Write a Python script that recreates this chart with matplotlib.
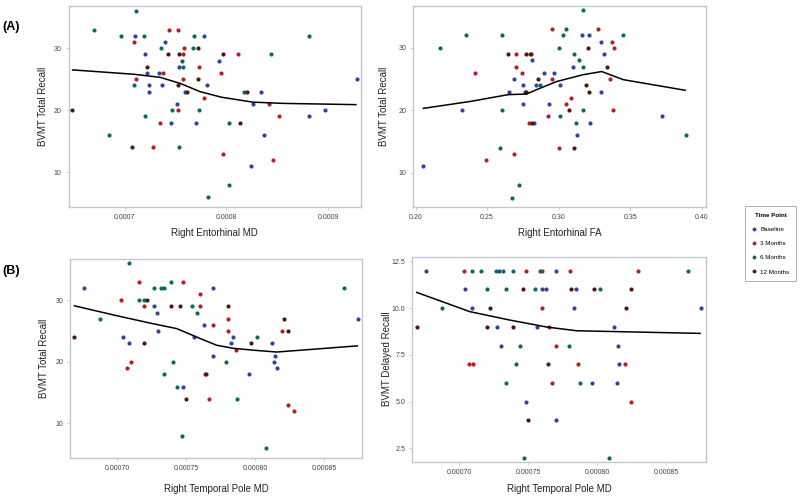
#BVMT recall vs right-hemisphere diffusion measures, by time point
import numpy as np
from matplotlib import pyplot as plt
from matplotlib.lines import Line2D
from matplotlib.ticker import FormatStrFormatter

plt.rcParams['font.family'] = ['Liberation Sans', 'DejaVu Sans']

groups = ["Baseline", "3 Months", "6 Months", "12 Months"]
group_colors = ["#2f45a0", "#b32025", "#0b6b60", "#4a1a0c"]

#Panel A left: Right Entorhinal MD (x in 1e-5 units) vs BVMT Total Recall
ent_md_x = [66.96, 71.14, 69.67, 71.05, 71.86, 70.88, 73.92, 74.38, 75.29, 73.59, 75.88, 76.67, 76.86,
            77.78, 77.19, 71.96, 74.25, 75.39, 75.78, 79.64, 81.18, 75.62, 79.31, 72.19, 75.39, 75.78,
            77.35, 72.19, 73.40, 73.76, 79.44, 71.14, 75.78, 77.19, 70.88, 72.35, 73.66, 75.29, 78.07,
            72.35, 75.95, 76.14, 81.76, 82.03, 83.40, 77.78, 75.16, 82.58, 84.15, 64.87, 74.67, 75.29,
            77.35, 89.67, 71.96, 85.16, 88.10, 73.50, 74.58, 76.99, 80.26, 81.34, 68.43, 83.69, 70.72,
            72.78, 75.39, 79.64, 84.61, 82.39, 80.26, 78.17, 88.10, 84.38, 92.78]
ent_md_y = [33, 36, 32, 32, 32, 31, 31, 33, 33, 30, 30, 30, 32,
            32, 30, 29, 29, 29, 29, 29, 29, 28, 28, 27, 27, 27,
            27, 26, 26, 26, 26, 25, 25, 25, 24, 24, 24, 24, 24,
            23, 23, 23, 23, 23, 23, 22, 21, 21, 21, 20, 20, 20,
            20, 20, 19, 19, 19, 18, 18, 18, 18, 18, 16, 16, 14,
            14, 14, 13, 12, 11, 8, 6, 32, 29, 25]
ent_md_g = [2, 2, 2, 0, 2, 1, 0, 1, 1, 2, 1, 2, 2,
            0, 3, 0, 3, 3, 1, 3, 1, 2, 0, 3, 0, 2,
            1, 0, 0, 1, 1, 1, 1, 3, 2, 0, 0, 3, 0,
            0, 0, 3, 2, 3, 0, 1, 0, 0, 1, 3, 2, 1,
            2, 0, 2, 1, 0, 1, 0, 0, 2, 3, 2, 0, 3,
            1, 2, 1, 1, 0, 2, 2, 2, 2, 0]
ent_md_fit_x = [64.9, 70.9, 73.5, 75.5, 77.4, 79.5, 82.6, 85.6, 92.7]
ent_md_fit_y = [26.5, 25.8, 25.3, 24.3, 23.0, 22.1, 21.3, 21.1, 20.9]

#Panel A right: Right Entorhinal FA vs BVMT Total Recall
ent_fa_x = [0.2054, 0.2172, 0.2354, 0.2324, 0.2413, 0.2492, 0.2592, 0.2604, 0.2604, 0.2643, 0.2650,
            0.2685, 0.2690, 0.2702, 0.2702, 0.2674, 0.2720, 0.2744, 0.2753, 0.2753, 0.2762, 0.2772,
            0.2772, 0.2790, 0.2802, 0.2806, 0.2814, 0.2814, 0.2830, 0.2853, 0.2841, 0.2872, 0.2900,
            0.2930, 0.2923, 0.2951, 0.2951, 0.2970, 0.3000, 0.3007, 0.3012, 0.3000, 0.3033, 0.3051,
            0.3049, 0.3070, 0.3089, 0.3100, 0.3110, 0.3110, 0.3121, 0.3128, 0.3140, 0.3161, 0.3170,
            0.3170, 0.3170, 0.3189, 0.3203, 0.3210, 0.3210, 0.3219, 0.3273, 0.3298, 0.3298, 0.3319,
            0.3340, 0.3359, 0.3371, 0.3389, 0.3382, 0.3452, 0.3720, 0.3888]
ent_fa_y = [11, 30, 32, 20, 26, 12, 14, 32, 20, 29, 23,
            25, 13, 29, 27, 6, 8, 26, 24, 21, 23, 23,
            29, 18, 29, 29, 28, 18, 18, 25, 24, 24, 26,
            21, 19, 33, 25, 26, 30, 24, 19, 14, 32, 33,
            21, 20, 22, 27, 29, 14, 18, 16, 28, 32, 36,
            27, 20, 24, 30, 32, 23, 18, 33, 31, 23, 29,
            27, 25, 31, 30, 20, 32, 19, 16]
ent_fa_g = [0, 2, 2, 0, 1, 1, 2, 2, 2, 3, 0,
            0, 1, 1, 1, 2, 2, 1, 0, 0, 0, 3,
            3, 1, 1, 3, 0, 3, 0, 3, 0, 2, 0,
            0, 1, 1, 1, 0, 2, 0, 2, 1, 2, 2,
            1, 3, 1, 0, 2, 3, 2, 0, 2, 0, 2,
            2, 2, 3, 3, 0, 3, 0, 1, 0, 0, 0,
            3, 1, 1, 1, 1, 2, 0, 2]
ent_fa_fit_x = [0.2054, 0.238, 0.2648, 0.2776, 0.2846, 0.2986, 0.3172, 0.3301, 0.3452, 0.3884]
ent_fa_fit_y = [20.3, 21.4, 22.5, 22.6, 23.3, 24.6, 25.7, 26.2, 24.9, 23.2]

#Panel B left: Right Temporal Pole MD (x in 1e-5 units) vs BVMT Total Recall
tp_md_x = [66.88, 67.56, 68.74, 70.27, 70.39, 70.68, 70.87, 70.85, 70.99, 71.60, 71.60, 71.94, 71.96,
           72.18, 71.96, 72.66, 72.69, 72.86, 72.98, 73.17, 73.36, 73.36, 73.90, 73.90, 74.06, 74.36,
           74.55, 74.74, 74.77, 74.67, 74.96, 75.44, 75.54, 75.76, 76.00, 76.00, 76.27, 76.36, 76.46,
           76.65, 76.92, 76.97, 76.97, 77.89, 78.03, 78.03, 78.06, 78.27, 78.37, 78.59, 78.66, 79.53,
           79.68, 80.16, 80.77, 81.20, 81.37, 81.47, 81.57, 81.95, 82.07, 82.39, 82.39, 82.85, 86.45,
           87.47]
tp_md_y = [24, 32, 27, 30, 24, 19, 23, 36, 20, 33, 30, 30, 29,
           30, 23, 32, 29, 28, 25, 32, 32, 18, 29, 33, 20, 16,
           29, 16, 33, 8, 14, 29, 24, 28, 31, 29, 26, 18, 18,
           14, 32, 26, 21, 20, 25, 27, 29, 23, 24, 22, 14, 18,
           23, 24, 6, 23, 20, 21, 19, 25, 27, 25, 13, 12, 32,
           27]
tp_md_g = [3, 0, 2, 1, 0, 1, 0, 2, 1, 1, 2, 2, 1,
           3, 3, 2, 0, 0, 0, 2, 2, 2, 3, 2, 2, 2,
           3, 0, 1, 2, 3, 2, 0, 2, 1, 1, 0, 1, 3,
           1, 0, 1, 0, 2, 1, 1, 3, 0, 0, 1, 2, 0,
           3, 2, 2, 0, 0, 0, 0, 1, 3, 3, 1, 1, 2,
           0]
tp_md_fit_x = [66.88, 69.95, 72.37, 74.31, 76.00, 77.21, 78.42, 79.87, 81.57, 87.42]
tp_md_fit_y = [29.1, 27.5, 26.3, 25.4, 23.8, 22.7, 22.2, 21.9, 21.6, 22.6]

#Panel B right: Right Temporal Pole MD (x in 1e-5 units) vs BVMT Delayed Recall
tp_dr_x = [66.91, 67.58, 68.77, 70.31, 70.39, 70.89, 70.89, 70.70, 71.01, 71.57, 72.00, 72.00, 72.20,
           72.68, 72.85, 72.71, 73.00, 73.19, 73.41, 73.41, 73.89, 73.89, 74.11, 74.40, 74.61, 74.81,
           74.81, 74.69, 75.00, 75.48, 75.60, 75.82, 75.99, 75.99, 75.99, 76.30, 76.50, 76.69, 77.00,
           77.00, 77.00, 76.43, 77.92, 77.99, 78.12, 78.43, 78.31, 78.62, 78.72, 79.61, 79.73, 80.22,
           80.82, 81.23, 81.43, 81.52, 81.59, 82.03, 82.10, 82.42, 82.42, 82.92, 86.55, 87.54]
tp_dr_y = [9, 12, 10, 12, 11, 12, 10, 7, 7, 12, 11, 9, 10,
           12, 12, 9, 8, 12, 11, 6, 12, 9, 7, 8, 11, 12,
           5, 2, 4, 11, 9, 12, 12, 11, 10, 11, 9, 6, 12,
           8, 4, 7, 8, 12, 11, 11, 10, 7, 6, 6, 11, 11,
           2, 9, 6, 8, 7, 7, 10, 11, 5, 12, 12, 10]
tp_dr_g = [3, 0, 2, 1, 0, 2, 0, 1, 1, 2, 2, 3, 3,
           2, 0, 0, 0, 2, 2, 2, 2, 3, 2, 2, 3, 1,
           0, 2, 3, 2, 0, 2, 1, 0, 1, 0, 1, 1, 0,
           1, 0, 3, 2, 1, 3, 0, 0, 1, 2, 0, 3, 2,
           2, 0, 0, 0, 0, 1, 3, 3, 1, 1, 2, 0]
tp_dr_fit_x = [66.91, 70.77, 73.67, 76.33, 78.50, 80.43, 87.44]
tp_dr_fit_y = [10.84, 9.81, 9.36, 8.99, 8.79, 8.76, 8.65]

W, H = 800, 498
fig = plt.figure(figsize=(8, 4.98), dpi=100)

def box(l, t, r, b):
    return [l / W, 1 - b / H, (r - l) / W, (b - t) / H]

def panel(rect, x, y, g, fx, fy, xlim, ylim, xticks, yticks, xfmt, yfmt, xlabel, ylabel, xpad, ypad):
    ax = fig.add_axes(rect)
    x = np.array(x)
    y = np.array(y)
    g = np.array(g)
    for k in range(4):
        m = g == k
        ax.scatter(x[m], y[m], s=9, color=group_colors[k], linewidths=0, zorder=3, clip_on=False)
    ax.plot(fx, fy, color='black', linewidth=1.1, zorder=4)
    ax.set_xlim(xlim)
    ax.set_ylim(ylim)
    ax.set_xticks(xticks)
    ax.set_yticks(yticks)
    ax.xaxis.set_major_formatter(FormatStrFormatter(xfmt))
    ax.yaxis.set_major_formatter(FormatStrFormatter(yfmt))
    ax.tick_params(labelsize=5, colors='#c4c8cc', labelcolor='#444444', length=2, width=0.6, pad=3)
    for s in ax.spines.values():
        s.set_color('#c4c8cc')
        s.set_linewidth(1.0)
    ax.set_xlabel(xlabel, fontsize=7, color='#222222', labelpad=xpad)
    ax.set_ylabel(ylabel, fontsize=7, color='#222222', labelpad=ypad)
    return ax

panel(box(68.5, 6, 361, 207), np.array(ent_md_x) * 1e-5, ent_md_y, ent_md_g,
      np.array(ent_md_fit_x) * 1e-5, ent_md_fit_y,
      (0.000645, 0.000932), (4.4, 36.8), [0.0007, 0.0008, 0.0009], [10, 20, 30],
      '%.4f', '%d', "Right Entorhinal MD", "BVMT Total Recall", 5, 4)

panel(box(413.3, 6, 706, 207), ent_fa_x, ent_fa_y, ent_fa_g, ent_fa_fit_x, ent_fa_fit_y,
      (0.1984, 0.403), (4.5, 36.7), [0.20, 0.25, 0.30, 0.35, 0.40], [10, 20, 30],
      '%.2f', '%d', "Right Entorhinal FA", "BVMT Total Recall", 5, 7)

panel(box(70, 259, 362.3, 458), np.array(tp_md_x) * 1e-5, tp_md_y, tp_md_g,
      np.array(tp_md_fit_x) * 1e-5, tp_md_fit_y,
      (0.0006656, 0.0008778), (4.4, 36.7), [0.00070, 0.00075, 0.00080, 0.00085], [10, 20, 30],
      '%.5f', '%d', "Right Temporal Pole MD", "BVMT Total Recall", 8.5, 4.5)

panel(box(412.3, 256.7, 706, 461.7), np.array(tp_dr_x) * 1e-5, tp_dr_y, tp_dr_g,
      np.array(tp_dr_fit_x) * 1e-5, tp_dr_fit_y,
      (0.0006659, 0.0008787), (1.79, 12.75), [0.00070, 0.00075, 0.00080, 0.00085],
      [2.5, 5.0, 7.5, 10.0, 12.5],
      '%.5f', '%.1f', "Right Temporal Pole MD", "BVMT Delayed Recall", 6, 0)

fig.text(11 / W, 1 - 27 / H, "(A)", fontsize=9, fontweight='bold', ha='center', va='center')
fig.text(11 / W, 1 - 271 / H, "(B)", fontsize=9, fontweight='bold', ha='center', va='center')

#Legend for the time points
handles = [Line2D([], [], marker='o', linestyle='', markersize=2.8, markeredgewidth=0,
                  color=c) for c in group_colors]
leg = fig.legend(handles, groups, title="Time Point", loc='upper left',
                 bbox_to_anchor=(741.7 / W, 1 - 203 / H), fontsize=4.5, title_fontsize=4.5,
                 frameon=True, fancybox=False, edgecolor='#888888', handlelength=0.8,
                 handletextpad=0.6, labelspacing=1.4, borderpad=1.1)
leg.get_title().set_fontweight('bold')
leg.get_frame().set_linewidth(0.6)

plt.savefig("out.png", dpi=100)
